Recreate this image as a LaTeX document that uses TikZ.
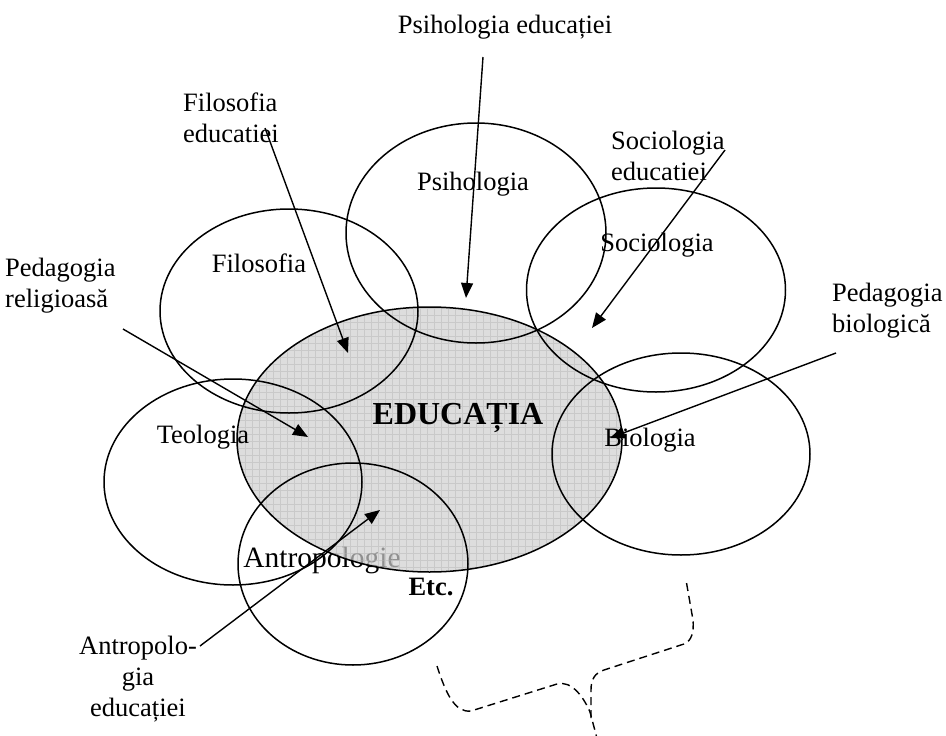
\documentclass[tikz,border=0pt]{standalone}
\usepackage{fontspec}
\setmainfont{Liberation Serif}
\usetikzlibrary{arrows.meta,shapes.geometric}
\definecolor{eduFill}{RGB}{206,206,206}
\definecolor{eduGrid}{RGB}{178,178,178}
\begin{document}
\begin{tikzpicture}[x=1pt,y=-1pt,
  field/.style={ellipse, draw, line width=1.5pt, inner sep=0pt, outer sep=0pt},
  lbl/.style={font=\fontsize{26.5}{31}\selectfont, inner sep=0pt, anchor=base},
  note/.style={font=\fontsize{26.5}{31}\selectfont, inner sep=0pt},
  link/.style={line width=1.4pt, -{Triangle[length=15pt,width=12pt]}},
  brace/.style={line width=1.4pt, dash pattern=on 8pt off 5pt, line cap=butt}]
\useasboundingbox (0,0) rectangle (946,736);

% label of the lower ellipse sits beneath the shaded core
\node[lbl, font=\fontsize{29.5}{34}\selectfont] (tAnt) at (322,567) {Antropologie};

% shaded core "EDUCAȚIA"
\coordinate (edu) at (429.5,439.5);
\begin{scope}
  \path[clip] (edu) ellipse [x radius=192.5, y radius=132.5];
  \fill[eduFill, fill opacity=0.7] (230,300) rectangle (630,580);
  \draw[eduGrid, line width=0.5pt, opacity=0.45] (229,299) grid[step=7pt] (630,580);
\end{scope}
\draw[line width=1.5pt] (edu) ellipse [x radius=192.5, y radius=132.5];

% surrounding fields
\node[field, minimum width=260, minimum height=220] (psi) at (476,233) {};
\node[field, minimum width=259, minimum height=204] (soc) at (656,290) {};
\node[field, minimum width=258, minimum height=204] (fil) at (289,311) {};
\node[field, minimum width=258, minimum height=206] (teo) at (233,482) {};
\node[field, minimum width=230, minimum height=202] (ant) at (353,564) {};
\node[field, minimum width=258, minimum height=202] (bio) at (681,454) {};

% field names
\node[lbl] (tPsi) at (473,190) {Psihologia};
\node[lbl] (tSoc) at (657,251) {Sociologia};
\node[lbl] (tFil) at (259,272) {Filosofia};
\node[lbl] (tTeo) at (203,443) {Teologia};
\node[lbl] (tBio) at (650,446) {Biologia};
\node[lbl, font=\fontsize{32}{36}\selectfont\bfseries] (tEdu) at (458,424) {EDUCAȚIA};
\node[lbl, font=\fontsize{26.5}{31}\selectfont\bfseries] (tEtc) at (431,595) {Etc.};

% branch names
\node[lbl] (pPsi) at (505,34) {Psihologia educației};
\node[note, align=left, anchor=north west] (pFil) at (183,93) {Filosofia\\educatiei};
\node[note, align=left, anchor=north west] (pSoc) at (611,131) {Sociologia\\educatiei};
\node[note, align=left, anchor=north west] (pRel) at (5,258) {Pedagogia\\religioasă};
\node[note, align=left, anchor=north west] (pBio) at (832,283) {Pedagogia\\biologică};
\node[note, align=center, anchor=north] (pAnt) at (138,636) {Antropolo-\\gia\\educației};

% arrow ends
\coordinate (sPsi) at (483,57);   \coordinate (ePsi) at (466,298);
\coordinate (sFil) at (265,128);  \coordinate (eFil) at (348,353);
\coordinate (sSoc) at (725,150);  \coordinate (eSoc) at (592,328);
\coordinate (sRel) at (123,329);  \coordinate (eRel) at (308,437);
\coordinate (sBio) at (836,353);  \coordinate (eBio) at (610,438);
\coordinate (sAnt) at (200,646);  \coordinate (eAnt) at (380,510);

\draw[link] (sPsi) -- (ePsi);
\draw[link] (sFil) -- (eFil);
\draw[link] (sSoc) -- (eSoc);
\draw[link] (sRel) -- (eRel);
\draw[link] (sBio) -- (eBio);
\draw[link] (sAnt) -- (eAnt);

% dashed brace under "Etc."
\coordinate (bL) at (437,666);
\coordinate (bR) at (686,580);
\coordinate (bM) at (590,712);
\coordinate (bT) at (598,742);
\draw[brace] (bL) .. controls (446,694) and (455,713) .. (471,711)
  -- (557,684) .. controls (572,680) and (584,698) .. (bM) -- (bT);
\draw[brace] (591,718) -- (591,690) .. controls (591,679) and (595,673) .. (604,670)
  -- (684,644) .. controls (692,641) and (694,631) .. (693,620) -- (bR);
\end{tikzpicture}
\end{document}
